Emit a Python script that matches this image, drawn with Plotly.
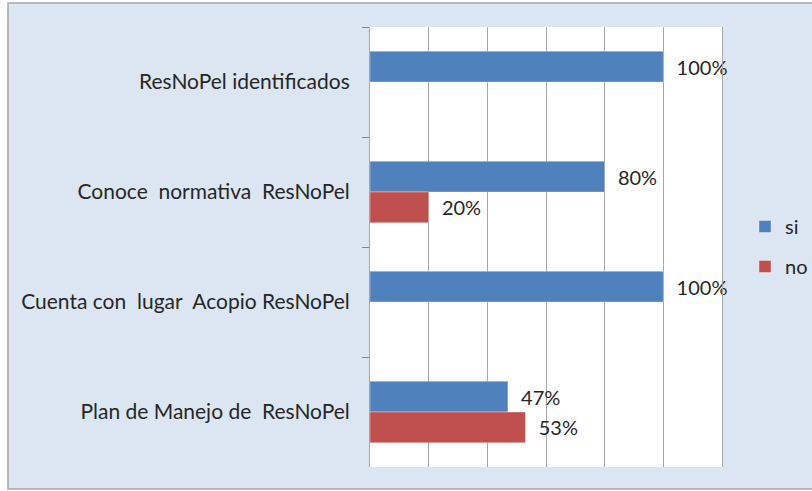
import plotly.graph_objects as go

categories = ["ResNoPel identificados", "Conoce  normativa  ResNoPel",
              "Cuenta con  lugar  Acopio ResNoPel", "Plan de Manejo de  ResNoPel"]
si_values = [1.00, 0.80, 1.00, 0.47]
no_values = [None, 0.20, None, 0.53]
series_names = ["si", "no"]
x_ticks = [0, 0.2, 0.4, 0.6, 0.8, 1.0, 1.2]

W, H = 812, 491
L, R, T, B = 370, 90, 27, 24
pw, ph = W - L - R, H - T - B

def px_x(p):
    return (p - L) / pw

def px_y(p):
    return 1 - (p - T) / ph

def fmt(v):
    return "" if v is None else "\u00a0\u00a0" + f"{round(v*100)}%"

font = "Lato, 'Open Sans', sans-serif"

fig = go.Figure()
for name, vals, col in [(series_names[0], si_values, "#4f81bd"),
                        (series_names[1], no_values, "#c0504d")]:
    fig.add_trace(go.Bar(
        y=categories, x=vals, orientation="h", name=name,
        marker=dict(color=col, line=dict(color="rgba(255,255,255,0.35)", width=1)),
        text=[fmt(v) for v in vals], textposition="outside",
        textfont=dict(family=font, size=20, color="#262626"),
        cliponaxis=False, legendgroup=name,
    ))

fig.update_layout(
    width=W, height=H,
    margin=dict(l=L, r=R, t=T, b=B, autoexpand=False),
    paper_bgcolor="white", plot_bgcolor="white",
    barmode="group", bargap=0.44, bargroupgap=0,
    font=dict(family=font, size=20, color="#262626"),
    showlegend=True,
    legend=dict(x=px_x(745), y=px_y(207), xanchor="left", yanchor="top",
                font=dict(size=20, family=font, color="#262626"),
                tracegroupgap=11, bgcolor="rgba(0,0,0,0)", itemwidth=30),
    shapes=[
        dict(type="rect", xref="paper", yref="paper", layer="below",
             x0=px_x(8), x1=px_x(820), y0=px_y(489), y1=px_y(3),
             fillcolor="#dce6f2", line=dict(color="#a6a6a6", width=1.5)),
        dict(type="rect", xref="paper", yref="paper", layer="below",
             x0=0, x1=1, y0=0, y1=1, fillcolor="white", line=dict(width=0)),
    ],
)
fig.update_xaxes(range=[0, 1.2], tickvals=x_ticks, showticklabels=False,
                 showgrid=True, gridcolor="#a6a6a6", gridwidth=1,
                 zeroline=False, showline=False, ticks="")
fig.update_yaxes(autorange="reversed", tickson="boundaries", ticks="outside",
                 ticklen=7, tickcolor="#868686", showline=True, mirror=True,
                 linecolor="#a6a6a6", linewidth=1, showgrid=False,
                 ticklabelstandoff=15,
                 tickfont=dict(family=font, size=21, color="#262626"))

fig.write_html("out.html", config={"displayModeBar": False},
               post_script="document.body.style.margin='0px';")
